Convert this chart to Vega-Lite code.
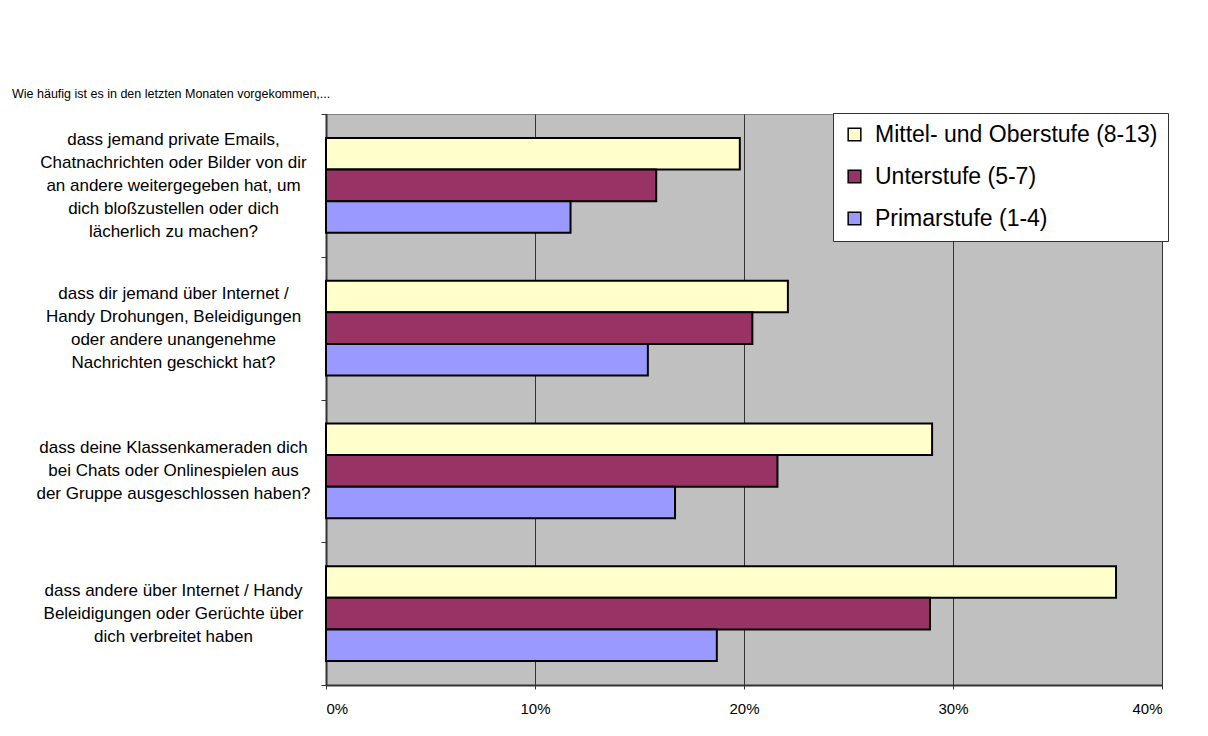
{
  "$schema": "https://vega.github.io/schema/vega-lite/v6.json",
  "width": 836,
  "height": 571,
  "autosize": {"type": "none"},
  "padding": {"left": 326, "top": 114, "right": 46, "bottom": 51},
  "background": "white",
  "title": {
    "text": "Wie häufig ist es in den letzten Monaten vorgekommen,...",
    "anchor": "start",
    "frame": "group",
    "dx": -314,
    "offset": 5,
    "fontSize": 12.5,
    "fontWeight": "normal",
    "font": "Liberation Sans",
    "color": "black"
  },
  "data": {
    "values": [
      {"frage": "dass jemand private Emails,|Chatnachrichten oder Bilder von dir|an andere weitergegeben hat, um|dich bloßzustellen oder dich|lächerlich zu machen?", "stufe": "Mittel- und Oberstufe (8-13)", "wert": 0.198},
      {"frage": "dass jemand private Emails,|Chatnachrichten oder Bilder von dir|an andere weitergegeben hat, um|dich bloßzustellen oder dich|lächerlich zu machen?", "stufe": "Unterstufe (5-7)", "wert": 0.158},
      {"frage": "dass jemand private Emails,|Chatnachrichten oder Bilder von dir|an andere weitergegeben hat, um|dich bloßzustellen oder dich|lächerlich zu machen?", "stufe": "Primarstufe (1-4)", "wert": 0.117},
      {"frage": "dass dir jemand über Internet /|Handy Drohungen, Beleidigungen|oder andere unangenehme|Nachrichten geschickt hat?", "stufe": "Mittel- und Oberstufe (8-13)", "wert": 0.221},
      {"frage": "dass dir jemand über Internet /|Handy Drohungen, Beleidigungen|oder andere unangenehme|Nachrichten geschickt hat?", "stufe": "Unterstufe (5-7)", "wert": 0.204},
      {"frage": "dass dir jemand über Internet /|Handy Drohungen, Beleidigungen|oder andere unangenehme|Nachrichten geschickt hat?", "stufe": "Primarstufe (1-4)", "wert": 0.154},
      {"frage": "dass deine Klassenkameraden dich|bei Chats oder Onlinespielen aus|der Gruppe ausgeschlossen haben?", "stufe": "Mittel- und Oberstufe (8-13)", "wert": 0.290},
      {"frage": "dass deine Klassenkameraden dich|bei Chats oder Onlinespielen aus|der Gruppe ausgeschlossen haben?", "stufe": "Unterstufe (5-7)", "wert": 0.216},
      {"frage": "dass deine Klassenkameraden dich|bei Chats oder Onlinespielen aus|der Gruppe ausgeschlossen haben?", "stufe": "Primarstufe (1-4)", "wert": 0.167},
      {"frage": "dass andere über Internet / Handy|Beleidigungen oder Gerüchte über|dich verbreitet haben", "stufe": "Mittel- und Oberstufe (8-13)", "wert": 0.378},
      {"frage": "dass andere über Internet / Handy|Beleidigungen oder Gerüchte über|dich verbreitet haben", "stufe": "Unterstufe (5-7)", "wert": 0.289},
      {"frage": "dass andere über Internet / Handy|Beleidigungen oder Gerüchte über|dich verbreitet haben", "stufe": "Primarstufe (1-4)", "wert": 0.187}
    ]
  },
  "mark": {"type": "bar", "stroke": "black", "strokeWidth": 2},
  "encoding": {
    "y": {
      "field": "frage",
      "type": "nominal",
      "sort": null,
      "scale": {"paddingInner": 0, "paddingOuter": 0},
      "axis": {
        "title": null,
        "tickBand": "extent",
        "tickSize": 5,
        "tickColor": "#333333",
        "domainColor": "#333333",
        "domainWidth": 2,
        "labelExpr": "split(datum.label, '|')",
        "labelAlign": "center",
        "labelBaseline": "middle",
        "labelOffset": {
          "condition": [
            {"test": "length(split(datum.value, '|')) == 5", "value": -46},
            {"test": "length(split(datum.value, '|')) == 4", "value": -34.5}
          ],
          "value": -23
        },
        "labelPadding": 148,
        "labelLimit": 400,
        "labelOverlap": false,
        "labelFontSize": 17,
        "labelLineHeight": 23,
        "labelFont": "Liberation Sans",
        "labelColor": "black"
      }
    },
    "yOffset": {
      "field": "stufe",
      "type": "nominal",
      "sort": ["Mittel- und Oberstufe (8-13)", "Unterstufe (5-7)", "Primarstufe (1-4)"],
      "scale": {"paddingInner": 0, "paddingOuter": 0.754}
    },
    "x": {
      "field": "wert",
      "type": "quantitative",
      "scale": {"domain": [0, 0.4], "nice": false},
      "axis": {
        "title": null,
        "format": "%",
        "values": [0, 0.1, 0.2, 0.3, 0.4],
        "grid": true,
        "gridColor": "#333333",
        "gridWidth": 1,
        "tickSize": 4,
        "tickColor": "#333333",
        "domainColor": "#333333",
        "domainWidth": 2,
        "labelPadding": 12,
        "labelFontSize": 15,
        "labelFont": "Liberation Sans",
        "labelColor": "black"
      }
    },
    "color": {
      "field": "stufe",
      "type": "nominal",
      "scale": {
        "domain": ["Mittel- und Oberstufe (8-13)", "Unterstufe (5-7)", "Primarstufe (1-4)"],
        "range": ["#FFFFCC", "#993366", "#9999FF"]
      },
      "legend": {
        "title": null,
        "orient": "none",
        "legendX": 507,
        "legendY": -1,
        "padding": 10,
        "fillColor": "white",
        "strokeColor": "#333333",
        "symbolType": "square",
        "symbolSize": 160,
        "symbolStrokeColor": "black",
        "symbolStrokeWidth": 1.5,
        "symbolOpacity": 1,
        "labelFontSize": 23,
        "labelFont": "Liberation Sans",
        "labelColor": "black",
        "labelOffset": 9,
        "rowPadding": 18,
        "labelLimit": 400
      }
    }
  },
  "config": {
    "view": {"fill": "#C0C0C0", "stroke": "#808080", "strokeWidth": 1},
    "axis": {"labelFont": "Liberation Sans"}
  }
}
